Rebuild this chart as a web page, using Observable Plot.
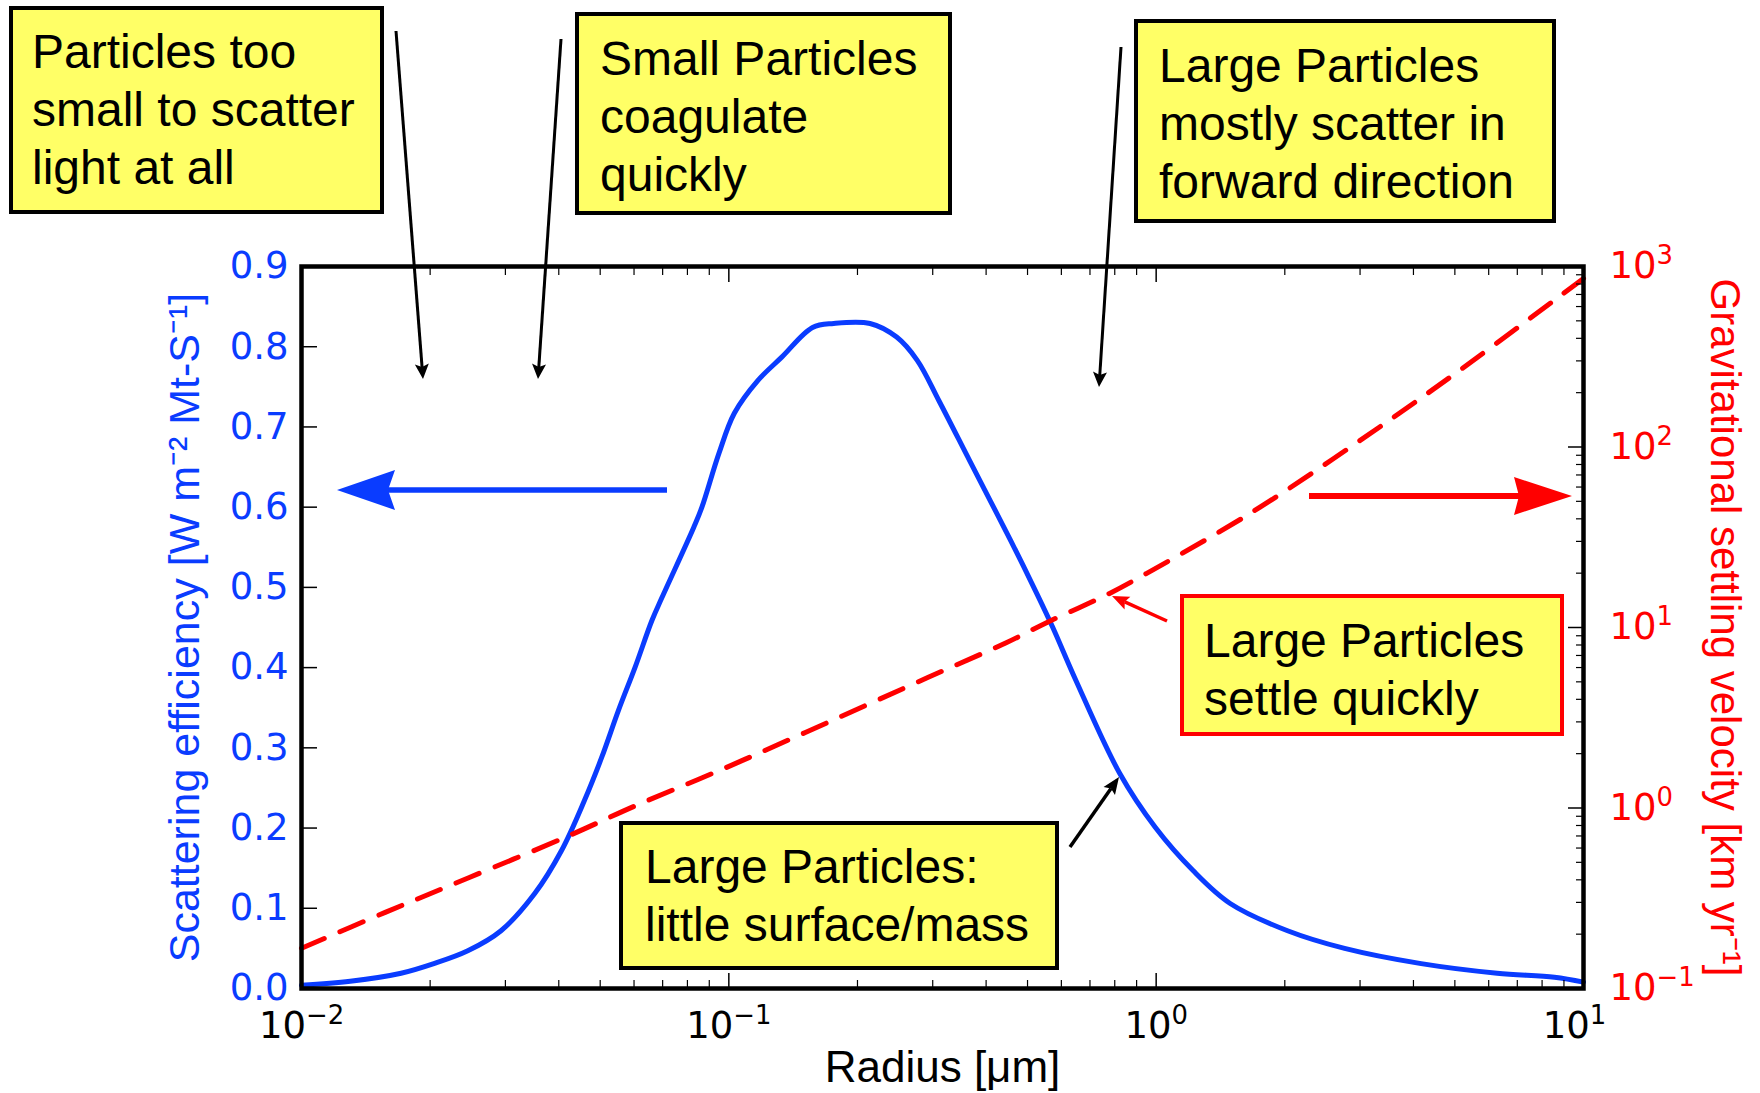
<!DOCTYPE html>
<html><head><meta charset="utf-8">
<script src="https://cdn.jsdelivr.net/npm/d3@7"></script>
<script src="https://cdn.jsdelivr.net/npm/@observablehq/plot@0.6"></script>
<style>
html,body{margin:0;padding:0;background:#fff;}
#wrap{position:relative;width:1760px;height:1093px;overflow:hidden;background:#fff;}
#wrap svg{position:absolute;left:0;top:0;overflow:visible;}
</style></head><body><div id="wrap"></div>
<script>
// ---- data ----
const radius = [0.0100,0.0130,0.0171,0.0204,0.0245,0.0293,0.0351,0.0406,0.0459,0.0504,0.0552,0.0603,0.0661,0.0697,0.0828,0.0865,0.0948,0.103,0.117,0.133,0.157,0.176,0.214,0.247,0.276,0.310,0.366,0.410,0.457,0.526,0.573,0.649,0.822,0.995,1.22,1.49,2.03,2.76,4.17,6.28,8.55,10.0];
const scattering = [0.004,0.009,0.019,0.031,0.047,0.072,0.118,0.172,0.234,0.288,0.347,0.400,0.459,0.487,0.575,0.600,0.667,0.717,0.758,0.787,0.824,0.829,0.829,0.812,0.783,0.733,0.658,0.607,0.558,0.492,0.450,0.384,0.268,0.201,0.147,0.106,0.072,0.050,0.031,0.019,0.014,0.008];
const radiusV = [0.0100,0.0157,0.0247,0.0424,0.0605,0.0948,0.151,0.292,0.447,0.557,0.776,0.948,1.66,2.92,5.12,10.0];
const velocity = [0.167,0.264,0.412,0.705,1.03,1.61,2.62,5.28,8.26,10.7,15.4,19.9,42.9,104,265,859];
const xTicks = [0.01, 0.1, 1, 10];
const xTickLabels = ["10⁻²", "10⁻¹", "10⁰", "10¹"];
const yTicks = [0, 0.1, 0.2, 0.3, 0.4, 0.5, 0.6, 0.7, 0.8, 0.9];
const yTickLabels = ["0.0","0.1","0.2","0.3","0.4","0.5","0.6","0.7","0.8","0.9"];
const vTicks = [0.1, 1, 10, 100, 1000];
const vTickLabels = ["10⁻¹", "10⁰", "10¹", "10²", "10³"];
const xTitle = "Radius [μm]";
const yTitle = "Scattering efficiency [W m⁻² Mt-S⁻¹]";
const vTitle = "Gravitational settling velocity [km yr⁻¹]";
const notes = [
  ["Particles too", "small to scatter", "light at all"],
  ["Small Particles", "coagulate", "quickly"],
  ["Large Particles", "mostly scatter in", "forward direction"],
  ["Large Particles", "settle quickly"],
  ["Large Particles:", "little surface/mass"]
];

// ---- layout ----
const W = 1760, H = 1093;
const blue = "#0a3cff", red = "#ff0000", yellow = "#ffff66";
const tickFont = "DejaVu Sans", titleFont = "Liberation Sans, Arial, sans-serif";
const common = {
  width: W, height: H, marginLeft: 301, marginRight: 177, marginTop: 266, marginBottom: 105,
  style: {background: "transparent", overflow: "visible"}
};
const minorX = d3.scaleLog().domain([0.01, 10]).ticks().filter(d => !xTicks.some(t => Math.abs(t - d) < 1e-9));
const minorV = d3.scaleLog().domain([0.1, 1000]).ticks().filter(d => !vTicks.some(t => Math.abs(t - d) / t < 1e-9));
const blueData = radius.map((r, i) => ({r, s: scattering[i]}));
const redData = radiusV.map((r, i) => ({r, v: velocity[i]}));
const xFmt = d => xTickLabels[xTicks.indexOf(d)];
const xLabelStyle = {anchor: "bottom", tickSize: 0, tickPadding: 23, tickFormat: xFmt, fill: "black", fontSize: 37, fontFamily: tickFont, label: null};

const p1 = Plot.plot({
  ...common,
  x: {type: "log", domain: [0.01, 10]},
  y: {domain: [0, 0.9]},
  marks: [
    Plot.line(blueData, {x: "r", y: "s", stroke: blue, strokeWidth: 5, curve: "catmull-rom"}),
    Plot.axisY(yTicks, {anchor: "left", tickSize: -16, fill: "none", stroke: "black", strokeWidth: 1.5, label: null}),
    Plot.axisY(yTicks, {anchor: "left", tickSize: 0, tickPadding: 13, tickFormat: d => yTickLabels[yTicks.indexOf(d)], fill: blue, fontSize: 37, fontFamily: tickFont, label: null}),
    Plot.axisX(xTicks, {anchor: "bottom", tickSize: -15, fill: "none", stroke: "black", strokeWidth: 1.5, label: null}),
    Plot.axisX(minorX, {anchor: "bottom", tickSize: -8, fill: "none", stroke: "black", strokeWidth: 1.2, label: null}),
    Plot.axisX(xTicks, {anchor: "top", tickSize: -15, fill: "none", stroke: "black", strokeWidth: 1.5, label: null}),
    Plot.axisX(minorX, {anchor: "top", tickSize: -8, fill: "none", stroke: "black", strokeWidth: 1.2, label: null}),
    Plot.axisX(xTicks.slice(0, 3), xLabelStyle),
    Plot.axisX(xTicks.slice(3), {...xLabelStyle, dx: -9}),
    Plot.text([yTitle], {text: d => d, frameAnchor: "left", dx: -116, rotate: -90, textAnchor: "middle", fill: blue, fontSize: 43, fontFamily: titleFont}),
    Plot.text([xTitle], {text: d => d, frameAnchor: "bottom", dy: 93, textAnchor: "middle", fill: "black", fontSize: 44, fontFamily: titleFont})
  ]
});

const p2 = Plot.plot({
  ...common,
  x: {type: "log", domain: [0.01, 10], axis: null},
  y: {type: "log", domain: [0.1, 1000], axis: null},
  marks: [
    Plot.line(redData, {x: "r", y: "v", stroke: red, strokeWidth: 5, strokeDasharray: "25,17", curve: "catmull-rom"}),
    Plot.axisY(vTicks, {anchor: "right", tickSize: -16, fill: "none", stroke: "black", strokeWidth: 1.5, label: null}),
    Plot.axisY(minorV, {anchor: "right", tickSize: -8, fill: "none", stroke: "black", strokeWidth: 1.2, label: null}),
    Plot.axisY(vTicks, {anchor: "right", tickSize: 0, tickPadding: 26, tickFormat: d => vTickLabels[vTicks.findIndex(t => Math.abs(t - d) / t < 1e-9)], fill: red, fontSize: 37, fontFamily: tickFont, label: null}),
    Plot.text([vTitle], {text: d => d, frameAnchor: "right", dx: 141, rotate: 90, textAnchor: "middle", fill: red, fontSize: 42, fontFamily: titleFont}),
    Plot.frame({stroke: "black", strokeWidth: 4.5})
  ]
});

// render power-of-ten tick labels as "10" + raised exponent (like mathtext)
const supMap = {"⁻": "−", "⁰": "0", "¹": "1", "²": "2", "³": "3"};
function fixPowers(svg) {
  svg.querySelectorAll("text").forEach(t => {
    const s = t.textContent;
    if (!/^10[⁻⁰¹²³]+$/.test(s)) return;
    const exp = [...s.slice(2)].map(c => supMap[c]).join("");
    while (t.firstChild) t.removeChild(t.firstChild);
    const ns = "http://www.w3.org/2000/svg";
    const a = document.createElementNS(ns, "tspan"); a.textContent = "10";
    const b = document.createElementNS(ns, "tspan"); b.textContent = exp;
    b.setAttribute("font-size", "0.7em"); b.setAttribute("dy", "-0.55em");
    t.appendChild(a); t.appendChild(b);
  });
}
fixPowers(p1); fixPowers(p2);

const wrap = document.getElementById("wrap");
wrap.appendChild(p1);
wrap.appendChild(p2);

// ---- annotation overlay ----
const ann = d3.create("svg").attr("width", W).attr("height", H).attr("viewBox", `0 0 ${W} ${H}`);
const boxLayout = [
  {x: 11, y: 8, w: 371, h: 204, stroke: "black", tx: 32, ty: 68},
  {x: 577, y: 14, w: 373, h: 199, stroke: "black", tx: 600, ty: 75},
  {x: 1136, y: 21, w: 418, h: 200, stroke: "black", tx: 1159, ty: 82},
  {x: 1182, y: 596, w: 380, h: 138, stroke: red, tx: 1204, ty: 657},
  {x: 621, y: 823, w: 436, h: 145, stroke: "black", tx: 645, ty: 883}
];
boxLayout.forEach((b, i) => {
  ann.append("rect").attr("x", b.x).attr("y", b.y).attr("width", b.w).attr("height", b.h)
    .attr("fill", yellow).attr("stroke", b.stroke).attr("stroke-width", 4);
  const t = ann.append("text").attr("font-family", titleFont).attr("font-size", 48).attr("fill", "black");
  notes[i].forEach((line, j) => {
    t.append("tspan").attr("x", b.tx).attr("y", b.ty + j * 58).text(line);
  });
});
function arrow(x1, y1, x2, y2, color, width, len, half, notch) {
  const dx = x2 - x1, dy = y2 - y1, L = Math.hypot(dx, dy);
  const ux = dx / L, uy = dy / L, nx = -uy, ny = ux;
  const bx = x2 - ux * len, by = y2 - uy * len;
  const mx = x2 - ux * (len - notch), my = y2 - uy * (len - notch);
  ann.append("line").attr("x1", x1).attr("y1", y1).attr("x2", mx).attr("y2", my)
    .attr("stroke", color).attr("stroke-width", width);
  ann.append("polygon")
    .attr("points", [[x2, y2], [bx + nx * half, by + ny * half], [mx, my], [bx - nx * half, by - ny * half]].map(p => p.join(",")).join(" "))
    .attr("fill", color);
}
arrow(396, 31, 423, 379, "black", 3, 15, 7, 3);
arrow(561, 39, 538, 379, "black", 3, 15, 7, 3);
arrow(1121, 47, 1099, 387, "black", 3, 15, 7, 3);
arrow(1070, 847, 1119, 777, "black", 3.5, 17, 7, 3);
arrow(1167, 621, 1112, 596, red, 3.5, 17, 7, 3);
arrow(667, 490, 337, 490, blue, 5.5, 58, 20, 7);
arrow(1309, 496, 1572, 496, red, 6, 58, 19, 5);
wrap.appendChild(ann.node());
</script></body></html>
